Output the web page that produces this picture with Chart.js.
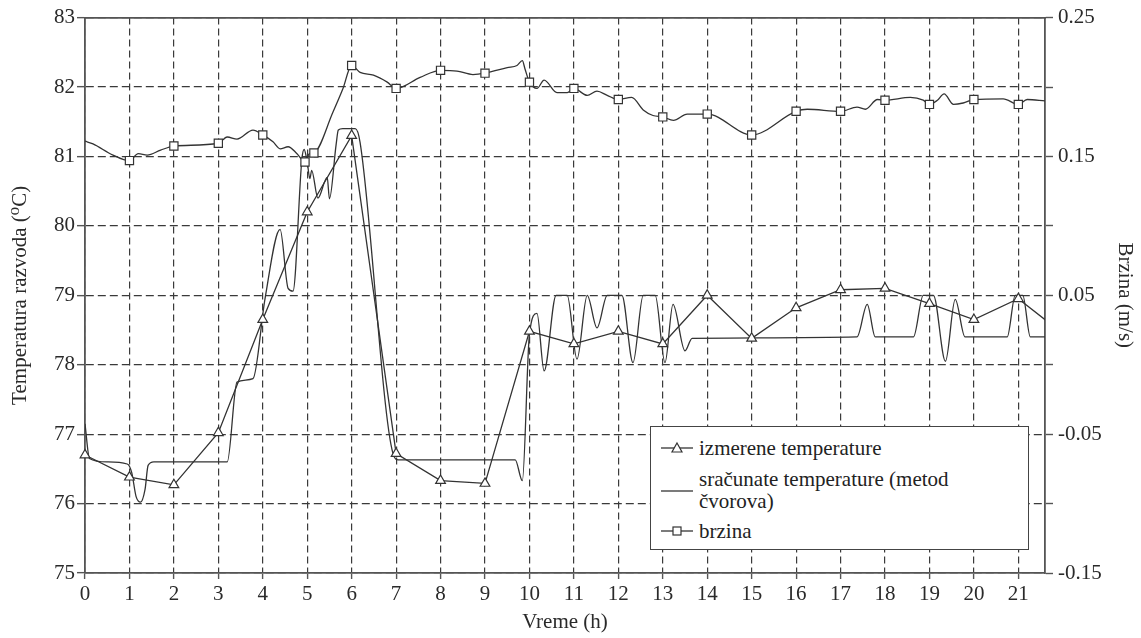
<!DOCTYPE html>
<html>
<head>
<meta charset="utf-8">
<script src="https://cdn.jsdelivr.net/npm/chart.js@4.4.0/dist/chart.umd.min.js"></script>
<style>
html,body{margin:0;padding:0;background:#fff;}
#wrap{position:relative;width:1141px;height:638px;}
#legend{position:absolute;left:650px;top:426px;width:377px;height:122px;border:1.5px solid #444;background:#fff;font-family:"Times New Roman","Liberation Serif",Tinos,"DejaVu Serif",serif;font-size:21px;color:#222;}
#legend .t{position:absolute;left:48px;line-height:22px;white-space:nowrap;}
#legend svg{position:absolute;left:10px;}
</style>
</head>
<body>
<div id="wrap">
<canvas id="c" width="1141" height="638"></canvas>
<div id="legend">
  <svg style="top:14px" width="32" height="14"><line x1="0" y1="7" x2="32" y2="7" stroke="#333" stroke-width="1.3"/><polygon points="16,2 21,11 11,11" fill="#fff" stroke="#333" stroke-width="1.2"/></svg>
  <div class="t" style="top:10px">izmerene temperature</div>
  <svg style="top:57px" width="32" height="14"><line x1="0" y1="7" x2="32" y2="7" stroke="#333" stroke-width="1.3"/></svg>
  <div class="t" style="top:41px">sračunate temperature (metod<br>čvorova)</div>
  <svg style="top:97px" width="32" height="14"><line x1="0" y1="7" x2="32" y2="7" stroke="#333" stroke-width="1.3"/><rect x="12" y="3" width="8" height="8" fill="#fff" stroke="#333" stroke-width="1.2"/></svg>
  <div class="t" style="top:93px">brzina</div>
</div>
</div>
<script>
// Measured temperatures (°C) at each hour
const measuredHours = [0,1,2,3,4,5,6,7,8,9,10,11,12,13,14,15,16,17,18,19,20,21,22];
const measuredTemp  = [76.7,76.38,76.27,77.02,78.65,80.2,81.3,76.72,76.33,76.29,78.48,78.3,78.48,78.3,79.0,78.38,78.82,79.08,79.1,78.88,78.65,78.95,78.45];

// Calculated temperatures (°C), node method
const calcHours = [0,0.1,0.5,0.95,1.05,1.15,1.25,1.35,1.42,1.55,3.2,3.42,3.78,4.05,4.39,4.57,4.68,4.88,4.93,5.0,5.06,5.1,5.24,5.45,5.5,5.65,5.7,5.8,6.08,6.19,6.93,7.05,9.68,9.84,10.0,10.17,10.33,10.6,10.85,11.07,11.3,11.52,11.75,12.08,12.33,12.56,12.83,13.05,13.23,13.5,13.66,17.37,17.6,17.78,18.64,18.86,19.09,19.36,19.58,19.8,20.75,20.93,21.1,21.27,21.6];
const calcTemp  = [77.15,76.65,76.6,76.57,76.45,76.1,76.02,76.2,76.55,76.6,76.6,77.75,77.8,78.95,79.95,79.1,79.06,80.96,81.1,80.92,80.68,80.8,80.4,80.7,80.39,81.17,81.38,81.4,81.4,81.2,76.72,76.63,76.63,76.33,78.44,78.74,77.91,79.0,79.0,78.08,79.0,78.53,79.0,79.0,78.03,79.0,79.0,78.03,78.87,78.2,78.38,78.4,78.87,78.4,78.4,79.0,79.0,78.05,78.94,78.4,78.4,79.0,79.0,78.4,78.4];

// Velocity (m/s) continuous trace
const speedHours = [0,0.18,0.63,1,1.2,1.4,1.7,2,3,3.2,3.42,3.78,4,4.23,4.39,4.57,4.77,4.95,5.05,5.15,5.58,5.8,6,6.19,6.49,6.8,7,7.54,8,8.37,8.73,9,9.5,9.72,9.84,9.9,10,10.17,10.33,10.62,10.85,11,11.3,11.52,11.75,12,12.3,12.56,12.78,13,13.24,13.55,13.84,14,15,16,16.25,17,17.37,17.56,17.83,18,18.57,18.86,19,19.18,19.33,19.54,19.76,20,20.66,21,21.2,21.6];
const speedValues = [0.161,0.159,0.151,0.147,0.152,0.151,0.1545,0.1575,0.1595,0.164,0.1625,0.169,0.1655,0.1605,0.1555,0.157,0.152,0.146,0.152,0.1525,0.182,0.1985,0.2155,0.2105,0.2085,0.2035,0.199,0.207,0.212,0.2115,0.209,0.21,0.214,0.2155,0.219,0.213,0.2035,0.199,0.205,0.196,0.196,0.199,0.194,0.197,0.194,0.191,0.1925,0.1835,0.1795,0.1785,0.176,0.1805,0.1805,0.1805,0.1655,0.1825,0.184,0.1825,0.1855,0.184,0.191,0.1905,0.1925,0.1905,0.1875,0.1905,0.195,0.1875,0.1885,0.191,0.1915,0.1875,0.191,0.19];

// Velocity marker samples (m/s)
const speedMarkerHours  = [1,2,3,4,4.95,5.15,6,7,8,9,10,11,12,13,14,15,16,17,18,19,20,21];
const speedMarkerValues = [0.147,0.1575,0.1595,0.1655,0.146,0.1525,0.2155,0.199,0.212,0.21,0.2035,0.199,0.191,0.1785,0.1805,0.1655,0.1825,0.1825,0.1905,0.1875,0.191,0.1875];

const rightLabels = [0.25,0.15,0.05,-0.05,-0.15];

const xy = (xs, ys) => xs.map((x,i)=>({x:x, y:ys[i]}));
const FONT = {family:'"Times New Roman", "Liberation Serif", Tinos, "DejaVu Serif", serif', size:21};
const INK = '#333';
const TXT = '#2a2a2a';

new Chart(document.getElementById('c'), {
  type:'line',
  data:{datasets:[
    {label:'izmerene temperature', data:xy(measuredHours, measuredTemp), yAxisID:'y', xAxisID:'x',
     borderColor:INK, borderWidth:1.3, tension:0,
     pointStyle:'triangle', pointRadius:5.6, pointBackgroundColor:'#fff', pointBorderColor:INK, pointBorderWidth:1.2,
     clip:{left:12,top:12,right:0,bottom:12}},
    {label:'brzina', data:xy(speedMarkerHours, speedMarkerValues), yAxisID:'y2', xAxisID:'x', showLine:false,
     pointStyle:'rect', pointRadius:5.8, pointBackgroundColor:'#fff', pointBorderColor:INK, pointBorderWidth:1.2,
     clip:12},
    {label:'sračunate temperature (metod čvorova)', data:xy(calcHours, calcTemp), yAxisID:'y', xAxisID:'x',
     borderColor:INK, borderWidth:1.3, pointRadius:0, cubicInterpolationMode:'monotone'},
    {label:'brzina linija', data:xy(speedHours, speedValues), yAxisID:'y2', xAxisID:'x',
     borderColor:INK, borderWidth:1.3, pointRadius:0, cubicInterpolationMode:'monotone'}
  ]},
  options:{
    responsive:false, animation:false, events:[],
    layout:{padding:{top:15,left:0,right:0,bottom:0}},
    plugins:{legend:{display:false}, tooltip:{enabled:false}},
    scales:{
      x:{type:'linear', position:'bottom', min:0, max:21.6,
         ticks:{stepSize:1, includeBounds:false, autoSkip:false, maxRotation:0, font:FONT, color:TXT, padding:3},
         grid:{color:'#3a3a3a', lineWidth:1.2, tickLength:6, tickColor:'#555', tickWidth:1.4},
         border:{display:true, color:'#555', width:1.8, dash:[7,4]},
         title:{display:true, text:'Vreme (h)', font:FONT, color:TXT, padding:{top:0,bottom:3}},
         afterFit(s){s.height=65;}},
      xTop:{type:'linear', position:'top', min:0, max:21.6,
         ticks:{display:false}, grid:{display:false, drawTicks:false},
         border:{display:true, color:'#555', width:1.8},
         afterFit(s){s.height=0;}},
      y:{position:'left', min:75, max:83,
         ticks:{stepSize:1, font:FONT, color:TXT, padding:2},
         grid:{color:'#3a3a3a', lineWidth:1.3, tickLength:8, tickColor:'#555', tickWidth:1.4},
         border:{display:true, color:'#555', width:1.8, dash:[8,4]},
         title:{display:true, text:'Temperatura razvoda (\u2070C)', font:FONT, color:TXT, padding:{top:8,bottom:0}},
         afterFit(s){s.width=85;}},
      y2:{position:'right', min:-0.15, max:0.25,
         ticks:{stepSize:0.05, font:FONT, color:TXT, padding:5,
                callback:(v)=>{ const r=Math.round(v*100)/100; return rightLabels.some(l=>Math.abs(l-r)<1e-6) ? r.toFixed(2) : ''; }},
         grid:{drawOnChartArea:false, tickLength:8, tickColor:'#555', tickWidth:1.4},
         border:{display:true, color:'#555', width:1.8},
         title:{display:true, text:'Brzina (m/s)', font:FONT, color:TXT, padding:{top:4,bottom:0}},
         afterFit(s){s.width=96;}}
    }
  }
});
</script>
</body>
</html>
